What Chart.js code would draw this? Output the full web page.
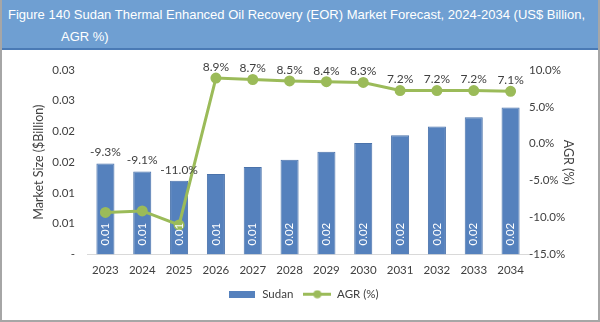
<!DOCTYPE html>
<html>
<head>
<meta charset="utf-8">
<script src="https://cdn.jsdelivr.net/npm/chart.js@4.4.1/dist/chart.umd.min.js"></script>
<style>
  html, body { margin: 0; padding: 0; background: #fff; }
  #frame {
    position: relative;
    width: 600px;
    height: 322px;
    box-sizing: border-box;
    border-left: 2px solid #a6a6a6;
    border-right: 2px solid #a6a6a6;
    border-bottom: 2px solid #a6a6a6;
    overflow: hidden;
  }
  #title {
    height: 50px;
    background: #6f9fd2;
    border-bottom: 2px solid #4a7ab5;
    color: #fff;
    font-family: "Liberation Sans", Arial, sans-serif;
    font-size: 13px;
    line-height: 22px;
    padding: 4px 0 0 6px;
    box-sizing: border-box;
    white-space: nowrap;
  }
  #title .l2 { padding-left: 53px; }
  #wrap { position: absolute; left: 0; top: 51px; width: 596px; height: 269px; }
</style>
</head>
<body>
<div id="frame">
  <div id="title">Figure 140 Sudan Thermal Enhanced Oil Recovery (EOR) Market Forecast, 2024-2034 (US$ Billion,<br><span class="l2">AGR %)</span></div>
  <div id="wrap"><canvas id="chart"></canvas></div>
</div>
<script>
/* ==========================
   DATA
========================== */
const years = ["2023", "2024", "2025", "2026", "2027", "2028", "2029", "2030", "2031", "2032", "2033", "2034"];
const marketSize = [0.0148, 0.0135, 0.0120, 0.0131, 0.0142, 0.0154, 0.0167, 0.0181, 0.0194, 0.0208, 0.0223, 0.0239];
const agr = [-9.3, -9.1, -11.0, 8.9, 8.7, 8.5, 8.4, 8.3, 7.2, 7.2, 7.2, 7.1];

const barColor = "#5581bd";
const lineColor = "#9bbb59";
const textColor = "#404040";
const fontFamily = "Lato, 'Liberation Sans', sans-serif";
const tickFont = { family: fontFamily, size: 11.5 };

// axis ticks: 0.025 -> 0.03 like Excel, 0 -> "-"
function fmtTick(value) {
  const v = Math.round(value * 1000) / 1000;
  if (v === 0) return "-";
  return (Math.round(v * 100 + 1e-9) / 100).toFixed(2);
}

// legend markers
function legendBox() {
  const c = document.createElement("canvas");
  c.width = 26; c.height = 7;
  const g = c.getContext("2d");
  g.fillStyle = barColor;
  g.fillRect(0, 0, 26, 7);
  return c;
}
function legendLine() {
  const c = document.createElement("canvas");
  c.width = 28; c.height = 9;
  const g = c.getContext("2d");
  g.strokeStyle = lineColor;
  g.lineWidth = 3;
  g.beginPath(); g.moveTo(0, 4.5); g.lineTo(28, 4.5); g.stroke();
  g.fillStyle = lineColor;
  g.beginPath(); g.arc(14, 4.5, 4, 0, Math.PI * 2); g.fill();
  return c;
}

// labels: white rotated values in bars, AGR % above point or bar top
const labelPlugin = {
  id: "labels",
  afterDatasetsDraw(chart) {
    const ctx = chart.ctx;
    const bars = chart.getDatasetMeta(0).data;
    const points = chart.getDatasetMeta(1).data;
    ctx.save();
    ctx.font = "11.5px " + fontFamily;

    bars.forEach((bar, i) => {
      ctx.save();
      ctx.translate(bar.x, bar.base - 9);
      ctx.rotate(-Math.PI / 2);
      ctx.fillStyle = "#ffffff";
      ctx.textAlign = "left";
      ctx.textBaseline = "middle";
      ctx.fillText(marketSize[i].toFixed(2), 0, 0);
      ctx.restore();
    });

    ctx.font = "12px " + fontFamily;
    ctx.fillStyle = textColor;
    ctx.textAlign = "center";
    ctx.textBaseline = "bottom";
    points.forEach((pt, i) => {
      const top = Math.min(pt.y, bars[i].y);
      ctx.fillText(agr[i].toFixed(1) + "%", pt.x, top - 5);
    });
    ctx.restore();
  }
};

new Chart(document.getElementById("chart"), {
  type: "bar",
  data: {
    labels: years,
    datasets: [
      {
        type: "bar",
        label: "Sudan",
        data: marketSize,
        backgroundColor: barColor,
        borderColor: "#4a72aa",
        borderWidth: 1,
        barPercentage: 0.98,
        categoryPercentage: 0.5,
        yAxisID: "y",
        order: 1
      },
      {
        type: "line",
        label: "AGR (%)",
        data: agr,
        borderColor: lineColor,
        backgroundColor: lineColor,
        borderWidth: 3,
        tension: 0,
        fill: false,
        pointRadius: 4,
        pointBackgroundColor: lineColor,
        pointBorderColor: lineColor,
        yAxisID: "y1",
        order: 0
      }
    ]
  },
  options: {
    responsive: true,
    maintainAspectRatio: false,
    animation: false,
    layout: {
      padding: { top: 17, right: 22, bottom: 10, left: 29 }
    },
    plugins: {
      legend: {
        position: "bottom",
        labels: {
          color: textColor,
          font: tickFont,
          usePointStyle: true,
          pointStyleWidth: 28,
          padding: 10,
          generateLabels(chart) {
            return [
              { text: "Sudan", pointStyle: legendBox(), fillStyle: barColor, strokeStyle: barColor, lineWidth: 0, datasetIndex: 0, fontColor: textColor },
              { text: "AGR (%)", pointStyle: legendLine(), fillStyle: lineColor, strokeStyle: lineColor, lineWidth: 0, datasetIndex: 1, fontColor: textColor }
            ];
          }
        }
      },
      tooltip: { enabled: false }
    },
    scales: {
      x: {
        afterFit(scale) { scale.height = 24; },
        grid: { display: false, drawTicks: false },
        border: { color: "#d9d9d9" },
        ticks: { color: textColor, font: tickFont, padding: 9 }
      },
      y: {
        position: "left",
        min: 0,
        max: 0.03,
        afterFit(scale) { scale.width = 56; },
        grid: { display: false, drawTicks: false },
        border: { display: false },
        ticks: {
          stepSize: 0.005,
          color: textColor,
          font: tickFont,
          padding: 12,
          callback: value => fmtTick(value)
        },
        title: {
          display: true,
          text: "Market Size ($Billion)",
          color: textColor,
          font: { family: fontFamily, size: 12.5 },
          padding: { top: 0, bottom: 0 }
        }
      },
      y1: {
        position: "right",
        min: -15,
        max: 10,
        afterFit(scale) { scale.width = 47; },
        grid: { display: false, drawTicks: false },
        border: { display: false },
        ticks: {
          stepSize: 5,
          color: textColor,
          font: tickFont,
          padding: 0,
          callback: value => value.toFixed(1) + "%"
        },
        title: {
          display: true,
          text: "AGR (%)",
          color: textColor,
          font: { family: fontFamily, size: 12.5 },
          padding: { top: 0, bottom: 0 }
        }
      }
    }
  },
  plugins: [labelPlugin]
});
</script>
</body>
</html>
